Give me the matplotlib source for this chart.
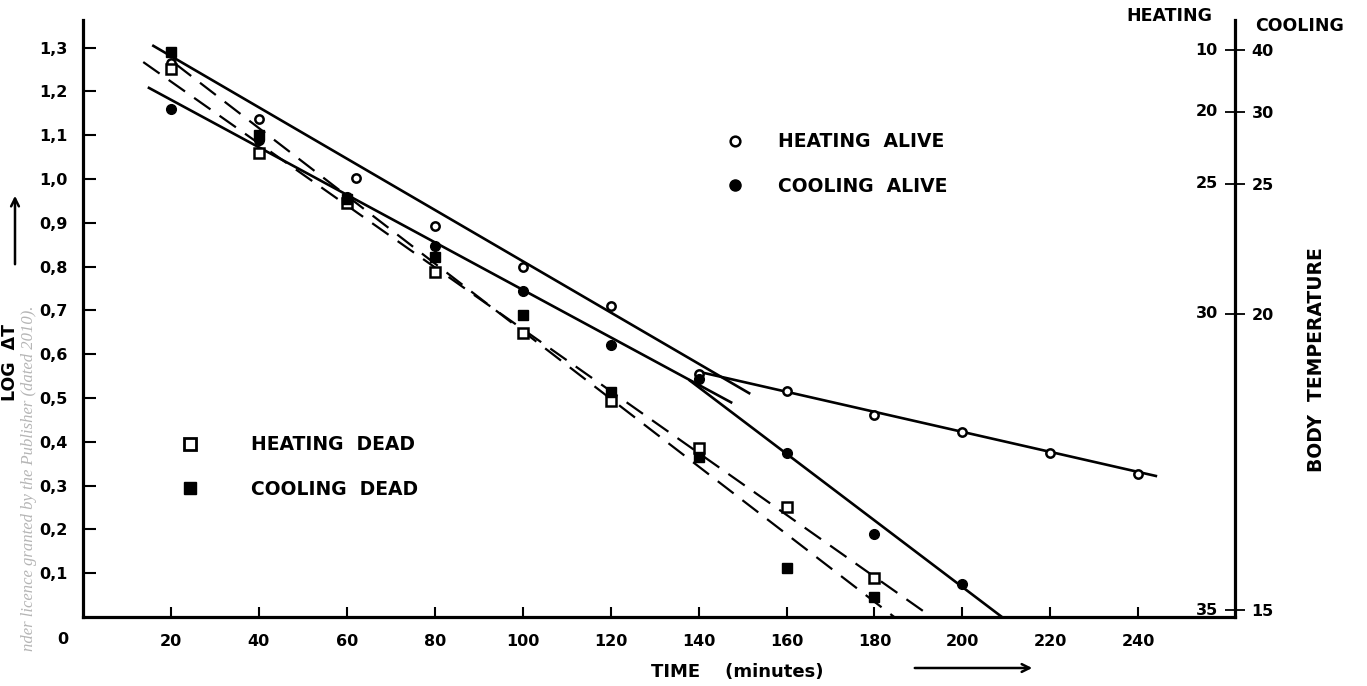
import matplotlib
matplotlib.use("Agg")
import matplotlib.pyplot as plt
from matplotlib.lines import Line2D

# ---------------- data ----------------
heat_alive_t = [20, 40, 62, 80, 100, 120, 140, 160, 180, 200, 220, 240]
heat_alive = [1.265, 1.137, 1.002, 0.893, 0.80, 0.71, 0.555, 0.516, 0.461, 0.422, 0.374, 0.326]

cool_alive_t = [20, 40, 60, 80, 100, 120, 140, 160, 180, 200]
cool_alive = [1.16, 1.09, 0.958, 0.847, 0.745, 0.62, 0.543, 0.374, 0.19, 0.075]

heat_dead_t = [20, 40, 60, 80, 100, 120, 140, 160, 180]
heat_dead = [1.25, 1.06, 0.945, 0.788, 0.648, 0.493, 0.386, 0.251, 0.089]

cool_dead_t = [20, 40, 60, 80, 100, 120, 140, 160, 180]
cool_dead = [1.29, 1.10, 0.955, 0.822, 0.69, 0.514, 0.365, 0.112, 0.046]

# fitted (hand drawn) lines: start/end points
heat_alive_fit1_t, heat_alive_fit1 = [16, 151.5], [1.304, 0.511]
heat_alive_fit2_t, heat_alive_fit2 = [140, 244], [0.56, 0.322]
cool_alive_fit1_t, cool_alive_fit1 = [15, 147.4], [1.208, 0.49]
cool_alive_fit2_t, cool_alive_fit2 = [138, 209], [0.54, 0.0]
heat_dead_fit_t, heat_dead_fit = [13.7, 193], [1.267, 0.0]
cool_dead_fit_t, cool_dead_fit = [21, 184.5], [1.263, 0.0]

x_ticks = [20, 40, 60, 80, 100, 120, 140, 160, 180, 200, 220, 240]
y_ticks = [0.1, 0.2, 0.3, 0.4, 0.5, 0.6, 0.7, 0.8, 0.9, 1.0, 1.1, 1.2, 1.3]
y_ticklabels = ["0,1", "0,2", "0,3", "0,4", "0,5", "0,6", "0,7", "0,8", "0,9",
                "1,0", "1,1", "1,2", "1,3"]

temp_positions = [1.294, 1.153, 0.989, 0.692, 0.015]
heating_temps = ["10", "20", "25", "30", "35"]
cooling_temps = ["40", "30", "25", "20", "15"]

# ---------------- figure ----------------
W, H = 1367, 686
fig = plt.figure(figsize=(W / 100, H / 100), dpi=100)
ax = fig.add_axes([83 / W, 69 / H, (1235 - 83) / W, (617 - 20) / H])
ax.set_xlim(0, 262)
ax.set_ylim(0, 1.363)

bold = dict(family="DejaVu Sans", weight="bold")

# spines
for s in ["left", "bottom", "right"]:
    ax.spines[s].set_linewidth(2.3)
ax.spines["top"].set_visible(False)

# fitted lines
ax.plot(heat_alive_fit1_t, heat_alive_fit1, color="black", lw=1.9)
ax.plot(heat_alive_fit2_t, heat_alive_fit2, color="black", lw=1.9)
ax.plot(cool_alive_fit1_t, cool_alive_fit1, color="black", lw=1.9)
ax.plot(cool_alive_fit2_t, cool_alive_fit2, color="black", lw=1.9)
ax.plot(heat_dead_fit_t, heat_dead_fit, color="black", lw=1.6, dashes=(9, 5))
ax.plot(cool_dead_fit_t, cool_dead_fit, color="black", lw=1.6, dashes=(9, 5))

# data points
ax.plot(heat_alive_t, heat_alive, ls="none", marker="o", ms=6, mfc="white",
        mec="black", mew=1.8, zorder=5)
ax.plot(cool_alive_t, cool_alive, ls="none", marker="o", ms=7, mfc="black",
        mec="black", zorder=5)
ax.plot(heat_dead_t, heat_dead, ls="none", marker="s", ms=6.5, mfc="white",
        mec="black", mew=1.8, zorder=5)
ax.plot(cool_dead_t, cool_dead, ls="none", marker="s", ms=7, mfc="black",
        mec="black", zorder=5)

# ticks
ax.set_xticks(x_ticks)
ax.set_xticklabels([str(t) for t in x_ticks], fontsize=11.5, **bold)
ax.set_yticks(y_ticks)
ax.set_yticklabels(y_ticklabels, fontsize=11.5, **bold)
ax.tick_params(axis="x", direction="in", length=7.5, width=1.5, pad=12)
ax.tick_params(axis="y", direction="in", length=9.5, width=1.5, pad=11)
ax.tick_params(axis="y", which="both", right=False)
ax.annotate("0", xy=(0, 0), xycoords="data", xytext=(-14.5, -16.5),
            textcoords="offset points", ha="center", va="center",
            fontsize=11.5, **bold)

# right (body temperature) axis
ax2 = ax.twinx()
ax2.set_ylim(ax.get_ylim())
ax2.set_yticks(temp_positions)
ax2.set_yticklabels(cooling_temps, fontsize=11.5, **bold)
ax2.tick_params(axis="y", direction="inout", length=14, width=1.3, pad=5)
for s in ["left", "bottom", "top", "right"]:
    ax2.spines[s].set_visible(False)
for pos, lab in zip(temp_positions, heating_temps):
    ax.annotate(lab, xy=(1, pos), xycoords=("axes fraction", "data"),
                xytext=(-12.5, 0), textcoords="offset points",
                ha="right", va="center", fontsize=11.5, **bold)

# axis titles
fig.text(1169 / W, 1 - 16 / H, "HEATING", ha="center", va="center",
         fontsize=12.5, **bold)
fig.text(1300 / W, 1 - 26 / H, "COOLING", ha="center", va="center",
         fontsize=12.5, **bold)
fig.text(1317 / W, 1 - 360 / H, "BODY  TEMPERATURE", rotation=90,
         ha="center", va="center", fontsize=13.5, **bold)
fig.text(10.5 / W, 1 - 362 / H, "LOG  ΔT", rotation=90, ha="center",
         va="center", fontsize=12.5, **bold)
fig.text(737 / W, 1 - 672 / H, "TIME    (minutes)", ha="center",
         va="center", fontsize=13, **bold)

# arrows
ax.annotate("", xy=(15, H - 193), xytext=(15, H - 267),
            xycoords="figure pixels", textcoords="figure pixels",
            arrowprops=dict(arrowstyle="->", lw=1.8, mutation_scale=14))
ax.annotate("", xy=(1035, H - 668), xytext=(912, H - 668),
            xycoords="figure pixels", textcoords="figure pixels",
            arrowprops=dict(arrowstyle="->", lw=1.8, mutation_scale=14))

# legends
h_ha = Line2D([], [], ls="none", marker="o", ms=7, mfc="white", mec="black", mew=1.8)
h_ca = Line2D([], [], ls="none", marker="o", ms=8, mfc="black", mec="black")
h_hd = Line2D([], [], ls="none", marker="s", ms=8, mfc="white", mec="black", mew=2)
h_cd = Line2D([], [], ls="none", marker="s", ms=8.5, mfc="black", mec="black")

leg_prop = dict(family="DejaVu Sans", weight="bold", size=13.5)
leg1 = ax.legend([h_ha, h_ca], ["HEATING  ALIVE", "COOLING  ALIVE"],
                 loc="center left", bbox_to_anchor=(727 / W, 1 - 164 / H),
                 bbox_transform=fig.transFigure, frameon=False, borderpad=0,
                 borderaxespad=0, handlelength=0.9, handletextpad=1.8,
                 labelspacing=1.35, prop=leg_prop)
ax.add_artist(leg1)
leg2 = ax.legend([h_hd, h_cd], ["HEATING  DEAD", "COOLING  DEAD"],
                 loc="center left", bbox_to_anchor=(182 / W, 1 - 467 / H),
                 bbox_transform=fig.transFigure, frameon=False, borderpad=0,
                 borderaxespad=0, handlelength=0.9, handletextpad=2.8,
                 labelspacing=1.35, prop=leg_prop)

# watermark
fig.text(29 / W, 1 - 306 / H, "nder licence granted by the Publisher (dated 2010).",
         rotation=90, rotation_mode="anchor", ha="right", va="center",
         fontsize=12, family="Liberation Serif", style="italic",
         color="#b5b5b5")

fig.savefig("out.png", dpi=100)
